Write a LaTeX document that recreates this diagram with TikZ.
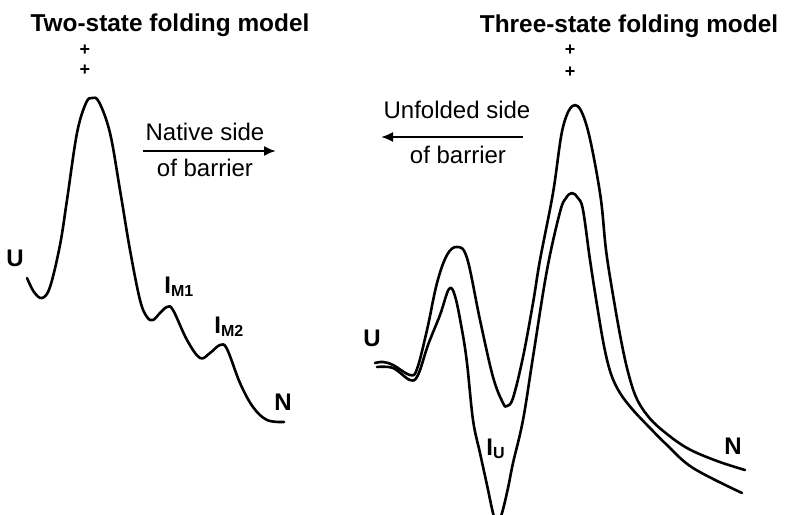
\documentclass[tikz,border=0pt]{standalone}
\usepackage{fontspec}
\setmainfont{Liberation Sans}
\usetikzlibrary{arrows.meta,positioning}
\begin{document}
\begin{tikzpicture}[x=0.5pt, y=-0.5pt, every node/.style={inner sep=0pt, font=\fontsize{12}{14}\selectfont},
  head/.style={font=\fontsize{12.2}{14}\selectfont\bfseries},
  state/.style={font=\fontsize{12}{14}\selectfont\bfseries},
  ts/.style={font=\fontsize{9}{9}\selectfont\bfseries},
  curve/.style={line width=1.3pt, line join=round, line cap=round},
  arr/.style={-{Latex[length=6pt,width=5pt]}, line width=1pt}]
\useasboundingbox (0,0) rectangle (786,514);
\clip (0,0) rectangle (786,514);
% two-state landscape
\node[head] (twohead) at (170,25) {Two-state folding model};
\node[ts] (twots1) at (85,50) {+};
\node[ts] (twots2) at (85,70) {+};
\draw[curve] plot[smooth, tension=0.6] coordinates {(27,278) (34,292) (42,298) (50,287)
  (60,245) (67,200) (77,133) (86,103) (92,98) (99,102) (110,133) (120,190) (130,250)
  (140,300) (147,317) (153,320) (160,313) (167,307) (173,310) (187,340) (200,358)
  (210,353) (220,345) (227,349) (240,383) (253,407) (267,420) (284,422)};
\node[state] (twoU) at (15,258) {U};
\node[state, anchor=base west] (im1) at (164,293) {I\textsubscript{M1}};
\node[state, anchor=base west] (im2) at (214,333) {I\textsubscript{M2}};
\node[state] (twoN) at (283,402) {N};
\coordinate (nat-s) at (143,151);
\coordinate (nat-e) at (276,151);
\draw[arr] (nat-s) -- (nat-e);
\node (nattop) at (205,132) {Native side};
\node (natbot) at (205,168) {of barrier};
% three-state landscape
\node[head] (threehead) at (629,26) {Three-state folding model};
\node[ts] (threets1) at (570,50) {+};
\node[ts] (threets2) at (570,72) {+};
\draw[curve] plot[smooth, tension=0.6] coordinates {(375,363) (383,362) (393,365) (410,375)
  (417,369) (427,330) (437,283) (447,255) (457,247) (467,258) (480,320) (493,377)
  (503,403) (507,406) (513,398) (523,357) (533,303) (540,260) (553,193) (563,127)
  (575,105) (587,127) (600,193) (606,250) (613,295) (621,340) (628,372) (636,397)
  (647,415) (662,430) (687,448) (717,461) (745,470)};
\draw[curve] plot[smooth, tension=0.6] coordinates {(377,367) (393,368) (410,380) (418,375)
  (428,345) (440,315) (449,289) (455,296) (462,330) (467,363) (473,420) (480,453)
  (487,485) (493,513) (497,524) (502,513) (508,488) (513,463) (523,420) (533,357)
  (547,270) (560,212) (566,198) (572,193) (578,198) (583,210) (590,260) (597,305)
  (604,346) (611,374) (620,393) (633,410) (650,428) (667,445) (693,468) (742,493)};
\node[state] (threeU) at (372,338) {U};
\node[state, anchor=base west] (iu) at (486,455) {I\textsubscript{U}};
\node[state] (threeN) at (733,446) {N};
\coordinate (unf-s) at (523,137);
\coordinate (unf-e) at (381,137);
\draw[arr] (unf-s) -- (unf-e);
\node (unftop) at (457,110) {Unfolded side};
\node (unfbot) at (458,155) {of barrier};
\end{tikzpicture}
\end{document}
